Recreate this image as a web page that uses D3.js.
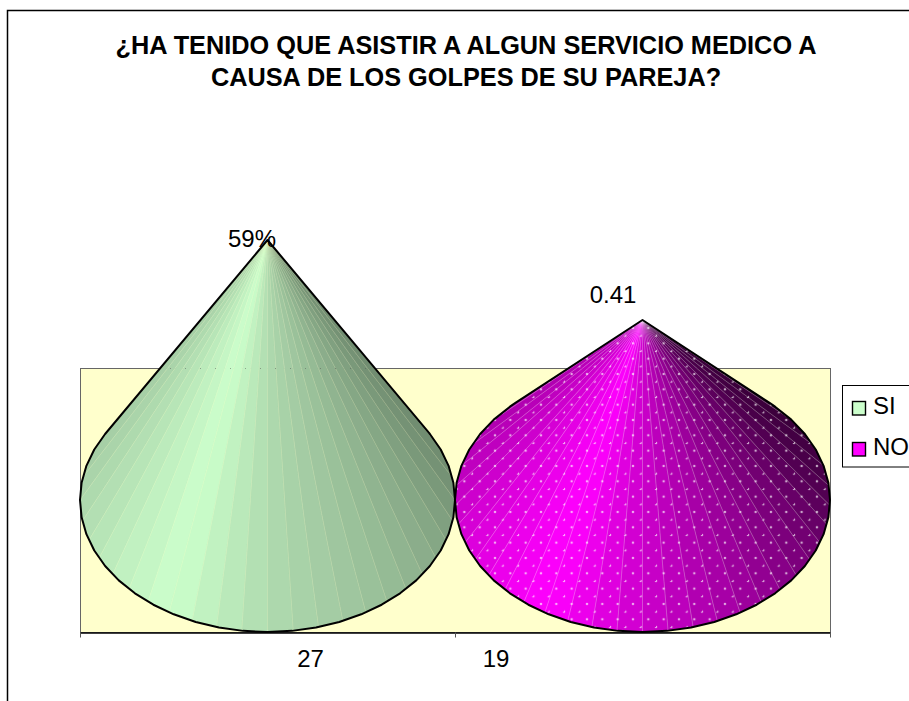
<!DOCTYPE html>
<html><head><meta charset="utf-8">
<script src="https://cdn.jsdelivr.net/npm/d3@7/dist/d3.min.js"></script>
<style>html,body{margin:0;padding:0;background:#fff;overflow:hidden}svg{display:block}text{font-family:"Liberation Sans",Arial,sans-serif;fill:#000}</style>
</head><body><svg id="c" width="909" height="701"></svg>
<script>
const titleLines = ["¿HA TENIDO QUE ASISTIR A ALGUN SERVICIO MEDICO A", "CAUSA DE LOS GOLPES DE SU PAREJA?"];
const categories = ["SI", "NO"];
const counts = [27, 19];
const dataLabels = ["59%", "0.41"];
const baseColors = ["#CCFFCC", "#FF00FF"];
const shadeAngles = [-140, -119, -90, -30, 0, 45, 90, 119, 140];
const shadeSI = [.76, .76, .82, 1, .86, .72, .56, .50, .50];
const shadeNO = [.65, .66, .76, 1, .80, .55, .30, .20, .20];
const valueDomain = [-12.2, 14.2];

const svg = d3.select("#c");
const plot = {l: 80, r: 830, t: 368, b: 632};
const y = d3.scaleLinear().domain(valueDomain).range([plot.b, plot.t]);
const xBand = d3.scaleBand().domain(categories).range([plot.l, plot.r]);
const xEdge = d3.scaleLinear().domain([0, categories.length]).range([plot.l, plot.r]);
const baseValue = 1;
const rad = d => d * Math.PI / 180;

svg.append("path").attr("d", "M7.5,701V10.5H909").attr("fill", "none").attr("stroke", "#000").attr("stroke-width", 1.5);
svg.append("text").selectAll("tspan").data(titleLines).join("tspan")
  .attr("x", 466).attr("y", (d, i) => 53.5 + i * 32.5).attr("text-anchor", "middle")
  .attr("font-size", 25.3).attr("font-weight", "bold").text(d => d);

svg.append("rect").attr("x", plot.l + .5).attr("y", plot.t + .5)
  .attr("width", plot.r - plot.l).attr("height", plot.b - plot.t)
  .attr("fill", "#FFFFCC").attr("stroke", "#666").attr("stroke-width", 1);

const defs = svg.append("defs");
const pat = defs.append("pattern").attr("id", "dots").attr("patternUnits", "userSpaceOnUse")
  .attr("width", 15.33).attr("height", 15.33).attr("patternTransform", "translate(564,550.3)");
[[0, 0], [7.67, 7.67]].forEach(p => {
  [[p[0], p[1]], [p[0] + 15.33, p[1]], [p[0], p[1] + 15.33], [p[0], p[1] - 15.33]].forEach(q =>
    pat.append("circle").attr("cx", q[0]).attr("cy", q[1]).attr("r", 1.25).attr("fill", "#fff").attr("fill-opacity", .65));
});

categories.forEach((cat, i) => {
  const cx = xBand(cat) + xBand.bandwidth() / 2, rx = xBand.bandwidth() / 2;
  const cy = y(baseValue), ry = plot.b - cy, ay = y(counts[i]);
  const phiT = Math.acos(-ry / (cy - ay)) * 180 / Math.PI;
  const pt = (phi, k = 1) => [cx + k * rx * Math.sin(rad(phi)), cy + k * ry * Math.cos(rad(phi))];
  const shade = d3.scaleLinear().domain(shadeAngles).range(i === 0 ? shadeSI : shadeNO);
  const base = d3.rgb(baseColors[i]);
  const col = phi => { const f = shade(phi); return d3.rgb(base.r * f, base.g * f, base.b * f).formatHex(); };

  const outlinePts = [[cx, ay], pt(-phiT)];
  for (let p = -Math.floor(phiT / 7.5) * 7.5; p <= phiT; p += 7.5) outlinePts.push(pt(p));
  outlinePts.push(pt(phiT));
  const outline = d3.line()(outlinePts) + "Z";
  defs.append("clipPath").attr("id", "clip" + i).append("path").attr("d", outline);
  const g = svg.append("g").attr("clip-path", `url(#clip${i})`);

  const step = 7.5, edges = [];
  const start = -Math.ceil(phiT / step) * step;
  for (let p = start; p <= -start; p += step) edges.push(p);
  d3.pairs(edges).forEach(([a, b]) => {
    const c = col((a + b) / 2);
    g.append("path").attr("d", d3.line()([[cx, ay], pt(a, 1.08), pt(b, 1.08)]) + "Z")
      .attr("fill", c).attr("stroke", c).attr("stroke-width", .6);
  });
  if (i === 1) g.append("rect").attr("x", plot.l).attr("y", ay).attr("width", plot.r - plot.l)
    .attr("height", plot.b - ay).attr("fill", "url(#dots)");
  edges.forEach(p => {
    const e = pt(p, 1.08);
    g.append("line").attr("x1", cx).attr("y1", ay).attr("x2", e[0]).attr("y2", e[1])
      .attr("stroke", i === 0 ? "#FFFFCC" : "#fff").attr("stroke-opacity", i === 0 ? .3 : .38).attr("stroke-width", .7);
  });
  if (i === 0) g.append("line").attr("x1", plot.l).attr("x2", plot.r).attr("y1", plot.t + .5).attr("y2", plot.t + .5)
    .attr("stroke", "#555").attr("stroke-opacity", .5).attr("stroke-dasharray", "1 14");

  svg.append("path").attr("d", outline).attr("fill", "none").attr("stroke", "#000")
    .attr("stroke-width", 2).attr("stroke-linejoin", "round");
});

const axis = d3.axisBottom(xEdge).tickValues(d3.range(categories.length + 1)).tickSize(5).tickSizeOuter(0).tickFormat("");
const ag = svg.append("g").attr("transform", `translate(0,${plot.b + .5})`).call(axis);
ag.selectAll("line").attr("stroke", "#555");
ag.select(".domain").attr("stroke", "#000").attr("stroke-width", 1.3);

const axisLabelX = [310.5, 496];
svg.selectAll(".cnt").data(counts).join("text").attr("class", "cnt")
  .attr("x", (d, i) => axisLabelX[i]).attr("y", 667).attr("text-anchor", "middle").attr("font-size", 24).text(d => d);
const dlX = [252, 613], dlY = [247, 303];
svg.selectAll(".dl").data(dataLabels).join("text").attr("class", "dl")
  .attr("x", (d, i) => dlX[i]).attr("y", (d, i) => dlY[i]).attr("text-anchor", "middle").attr("font-size", 24).text(d => d);

svg.append("rect").attr("x", 842.5).attr("y", 385.5).attr("width", 80).attr("height", 81.5)
  .attr("fill", "#fff").attr("stroke", "#000").attr("stroke-width", 1);
categories.forEach((cat, i) => {
  const ly = 401.5 + i * 41;
  svg.append("rect").attr("x", 852.5).attr("y", ly).attr("width", 13).attr("height", 13.5)
    .attr("fill", baseColors[i]).attr("stroke", "#000").attr("stroke-width", 1.4);
  svg.append("text").attr("x", 873).attr("y", ly + 12.5).attr("font-size", 24).text(cat);
});
</script></body></html>
